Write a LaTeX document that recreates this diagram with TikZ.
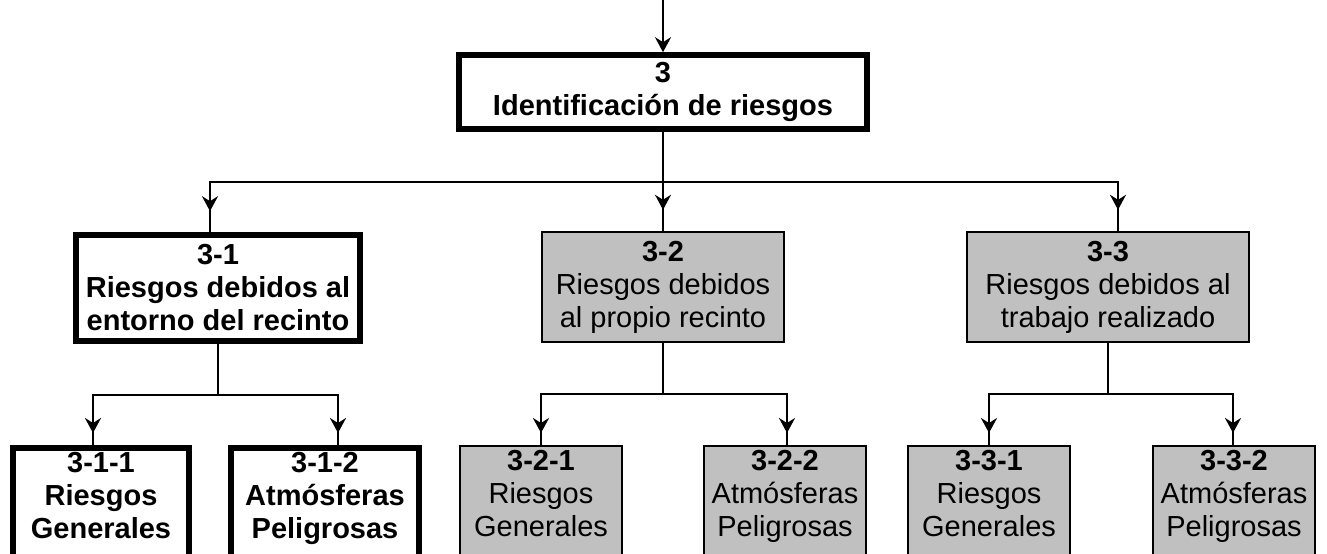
\documentclass[tikz,border=0pt]{standalone}
\usepackage{fontspec}
\setmainfont{Liberation Sans}
\usepackage{xcolor}
\usetikzlibrary{arrows.meta,decorations.markings}
\definecolor{boxgrey}{HTML}{C0C0C0}
\newcommand{\boxfont}{\fontsize{14.5}{16.5}\selectfont}

\begin{document}
\begin{tikzpicture}[
  x=0.5pt, y=-0.5pt,
  font=\boxfont,
  >={Stealth[length=7.5pt,width=8pt,inset=2.5pt]},
  link/.style={line width=1.2pt},
  drop/.style={link, postaction={decorate},
    decoration={markings, mark=at position -#1 with {\arrow{>}}}},
  main/.style={draw, line width=2.8pt, align=center, inner sep=1pt, font=\boxfont\bfseries},
  grey/.style={draw, line width=1.2pt, fill=boxgrey, align=center, inner sep=1pt},
  leaf/.style={anchor=north, inner ysep=2pt, text depth=14pt},
]
\clip (0,0) rectangle (1327,553);

% top level
\coordinate (in) at (663,0);
\node[main, minimum width=204pt, minimum height=37pt] (c3) at (663,92)
  {3\\Identificación de riesgos};

% second level
\node[main, minimum width=142pt, minimum height=53pt] (c31) at (218,288)
  {3-1\\Riesgos debidos al\\entorno del recinto};
\node[grey, minimum width=121pt, minimum height=55pt] (c32) at (663,287)
  {\textbf{3-2}\\Riesgos debidos\\al propio recinto};
\node[grey, minimum width=141pt, minimum height=55pt] (c33) at (1108,287)
  {\textbf{3-3}\\Riesgos debidos al\\trabajo realizado};

% third level (cut off by the page edge)
\node[main, leaf, minimum width=88pt] (c311) at (101,445) {3-1-1\\Riesgos\\Generales};
\node[main, leaf, minimum width=94pt] (c312) at (325,445) {3-1-2\\Atmósferas\\Peligrosas};
\node[grey, leaf, minimum width=81pt] (c321) at (541,445) {\textbf{3-2-1}\\Riesgos\\Generales};
\node[grey, leaf, minimum width=81pt] (c322) at (785,445) {\textbf{3-2-2}\\Atmósferas\\Peligrosas};
\node[grey, leaf, minimum width=81pt] (c331) at (989,445) {\textbf{3-3-1}\\Riesgos\\Generales};
\node[grey, leaf, minimum width=81pt] (c332) at (1234,445) {\textbf{3-3-2}\\Atmósferas\\Peligrosas};

% connectors
\draw[link, ->] (in) -- (c3.north);
\draw[link] (c3.south) -- ++(0,50) coordinate (j3);
\draw[drop=10.5pt] (j3) -| ([xshift=-4pt]c31.north);
\draw[drop=10.5pt] (j3) -- (c32.north);
\draw[drop=10.5pt] (j3) -| ([xshift=5pt]c33.north);

\foreach \p/\l/\r/\dl/\dr in {c31/c311/c312/-4/6.5, c32/c321/c322/0/1, c33/c331/c332/0/-0.5}{
  \draw[link] (\p.south) -- ++(0,51) coordinate (j\p);
  \draw[drop=6pt] (j\p) -| ([xshift=\dl pt]\l.north);
  \draw[drop=6pt] (j\p) -| ([xshift=\dr pt]\r.north);
}
\end{tikzpicture}
\end{document}
